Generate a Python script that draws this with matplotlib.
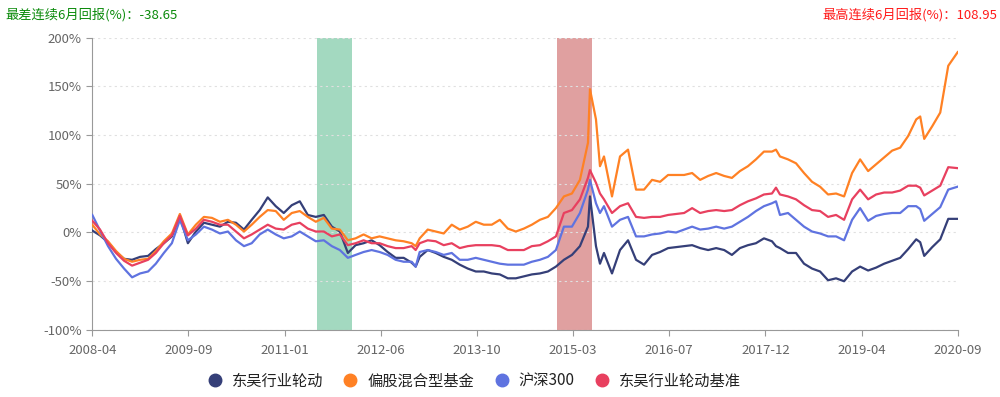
import numpy as np
import matplotlib
matplotlib.use("Agg")
import matplotlib.pyplot as plt
from matplotlib.lines import Line2D

plt.rcParams['font.family'] = ['Noto Sans CJK SC', 'DejaVu Sans']

# trading-day index on the category axis (0 = 2008-04, 3024 = 2020-09)
day = [0, 27, 55, 83, 111, 139, 167, 195, 222, 250, 278, 306, 334, 362, 390, 418, 446, 474,
       502, 530, 557, 585, 613, 641, 669, 697, 725, 753, 781, 809, 837, 865, 893, 920, 948,
       976, 1004, 1032, 1060, 1088, 1116, 1130, 1144, 1172, 1200, 1228, 1256, 1284, 1312,
       1340, 1368, 1396, 1424, 1452, 1480, 1508, 1536, 1564, 1592, 1620, 1648, 1676, 1704,
       1732, 1739, 1760, 1774, 1788, 1816, 1844, 1872, 1900, 1928, 1956, 1984, 2012, 2040,
       2068, 2096, 2124, 2152, 2180, 2208, 2235, 2263, 2291, 2319, 2347, 2375, 2389, 2403,
       2431, 2459, 2487, 2515, 2543, 2571, 2599, 2627, 2655, 2683, 2711, 2739, 2767, 2795,
       2823, 2851, 2879, 2893, 2907, 2935, 2963, 2991, 3024]

fund = [2, -3, -10, -20, -27, -28, -25, -24, -17, -11, -4, 17, -11, 1, 10, 8, 6, 11,
        10, 3, 13, 23, 36, 27, 20, 28, 32, 18, 16, 18, 6, 1, -21, -13, -11,
        -8, -13, -20, -26, -26, -31, -35, -25, -18, -21, -25, -28, -33, -37,
        -40, -40, -42, -43, -47, -47, -45, -43, -42, -40, -35, -28, -23, -14,
        6, 37, -14, -32, -21, -42, -18, -8, -28, -33, -23, -20, -16, -15,
        -14, -13, -16, -18, -16, -18, -23, -16, -13, -11, -6, -9, -14, -16,
        -21, -21, -32, -37, -40, -49, -47, -50, -40, -35, -39, -36, -32, -29,
        -26, -17, -7, -10, -24, -15, -7, 14, 14]

mixed = [8, -2, -9, -19, -27, -30, -28, -27, -19, -9, -1, 19, -2, 8, 16, 15, 11, 13,
         8, 1, 8, 16, 23, 22, 13, 20, 22, 16, 11, 15, 4, 3, -8, -6, -2,
         -6, -4, -6, -8, -9, -11, -14, -6, 3, 1, -1, 8, 3, 6,
         11, 8, 8, 13, 4, 1, 4, 8, 13, 16, 25, 37, 40, 54,
         92, 147, 116, 68, 78, 37, 78, 85, 44, 44, 54, 52, 59, 59,
         59, 61, 54, 58, 61, 58, 56, 63, 68, 75, 83, 83, 85, 78,
         75, 71, 61, 52, 47, 39, 40, 37, 61, 75, 63, 70, 77, 84,
         87, 99, 116, 119, 96, 109, 123, 171, 185]

hs300 = [18, 2, -14, -27, -37, -46, -42, -40, -32, -21, -11, 13, -8, -2, 6, 3, -1, 1,
         -8, -14, -11, -2, 3, -2, -6, -4, 1, -4, -9, -8, -14, -18, -26, -23, -20,
         -18, -20, -23, -28, -30, -30, -35, -20, -18, -20, -23, -21, -28, -28,
         -26, -28, -30, -32, -33, -33, -33, -30, -28, -25, -18, 6, 6, 20,
         44, 54, 30, 20, 27, 6, 13, 16, -4, -4, -2, -1, 1, 0,
         3, 6, 3, 4, 6, 4, 6, 11, 16, 22, 27, 30, 32, 18,
         20, 13, 6, 1, -1, -4, -4, -8, 13, 25, 12, 17, 19, 20,
         20, 27, 27, 24, 12, 19, 26, 44, 47]

bench = [12, 3, -11, -21, -29, -34, -31, -28, -21, -11, -3, 17, -3, 4, 13, 11, 8, 8,
         1, -6, -2, 3, 8, 4, 3, 8, 10, 4, 1, 1, -4, -2, -13, -11, -8,
         -11, -11, -14, -16, -16, -14, -18, -11, -8, -9, -13, -11, -16, -14,
         -13, -13, -13, -14, -18, -18, -18, -14, -13, -9, -4, 20, 23, 34,
         56, 64, 51, 40, 34, 20, 27, 30, 16, 15, 16, 16, 18, 19,
         20, 25, 20, 22, 23, 22, 23, 28, 32, 35, 39, 40, 46, 39,
         37, 34, 28, 23, 22, 16, 18, 13, 34, 44, 34, 39, 41, 41,
         43, 48, 48, 46, 38, 43, 48, 67, 66]

names = ["东吴行业轮动", "偏股混合型基金", "沪深300", "东吴行业轮动基准"]
colors = ["#353f78", "#ff8124", "#5f73e0", "#e8405f"]
series = [fund, mixed, hs300, bench]

tick_days = [0, 336, 672, 1008, 1344, 1680, 2016, 2352, 2688, 3024]
tick_labels = ["2008-04", "2009-09", "2011-01", "2012-06", "2013-10", "2015-03",
               "2016-07", "2017-12", "2019-04", "2020-09"]

worst_span = (785, 908)    # worst 6-month window
best_span = (1625, 1746)   # best 6-month window

fig = plt.figure(figsize=(10, 3.97), dpi=100)
ax = fig.add_axes([0.0923, 0.1688, 0.8654, 0.7367])

ax.axvspan(*worst_span, color="#a3d9c0", lw=0, zorder=1)
ax.axvspan(*best_span, color="#e0a0a0", lw=0, zorder=1)

for vals, c in zip(series, colors):
    ax.plot(day, vals, color=c, lw=1.6, zorder=3)

ax.set_xlim(0, 3024)
ax.set_ylim(-100, 200)
ax.set_yticks(range(-100, 201, 50))
ax.set_yticklabels([f"{v}%" for v in range(-100, 201, 50)])
ax.set_xticks(tick_days)
ax.set_xticklabels(tick_labels)
ax.grid(axis="y", color="#e0e0e0", ls=(0, (2, 3)), lw=0.8, zorder=0)
for s in ["top", "right"]:
    ax.spines[s].set_visible(False)
for s in ["left", "bottom"]:
    ax.spines[s].set_color("#999999")
ax.tick_params(colors="#999999", labelcolor="#666666", labelsize=9.5, length=4)
ax.tick_params(axis="x", pad=6)

fig.text(0.005, 0.962, "最差连续6月回报(%)：-38.65", color="#0a8a0a", fontsize=9.5, va="center")
fig.text(0.997, 0.962, "最高连续6月回报(%)：108.95", color="#ff1a1a", fontsize=9.5,
         va="center", ha="right")

handles = [Line2D([0], [0], marker="o", ls="", color=c, markersize=9, label=n)
           for n, c in zip(names, colors)]
fig.legend(handles=handles, loc="center", bbox_to_anchor=(0.47, 0.04), ncol=4,
           frameon=False, fontsize=11, handletextpad=0.1, columnspacing=0.8,
           labelcolor="#222222")

fig.savefig("out.png", dpi=100)
